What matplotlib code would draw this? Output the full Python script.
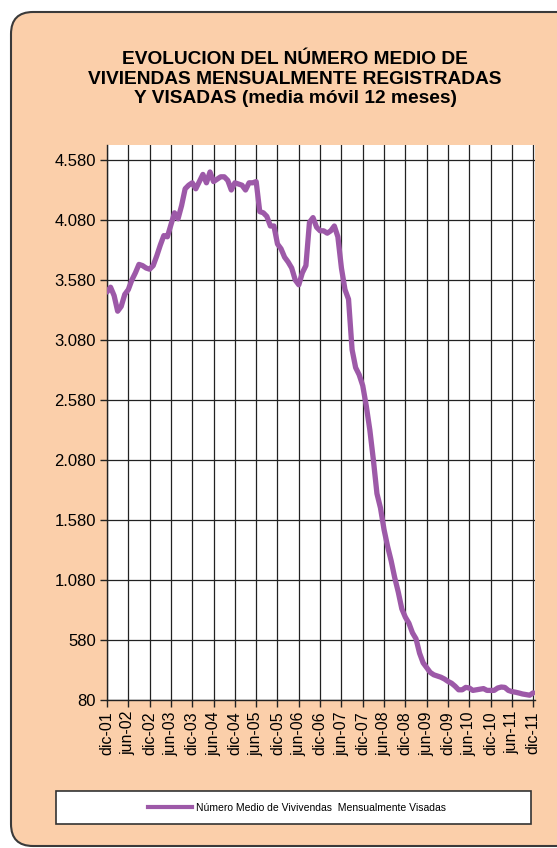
import matplotlib
matplotlib.use("Agg")
import matplotlib.pyplot as plt
from matplotlib.patches import FancyBboxPatch, Rectangle
from matplotlib.lines import Line2D

plt.rcParams['font.family'] = ['Liberation Sans', 'DejaVu Sans']

# Monthly 12-month moving average, dic-01 .. dic-11
values = [3480, 3520, 3450, 3320, 3360, 3460, 3500, 3580, 3640, 3710,
          3700, 3680, 3670, 3700, 3780, 3870, 3950, 3940, 4040, 4140,
          4090, 4200, 4340, 4370, 4390, 4340, 4400, 4460, 4390, 4480,
          4400, 4420, 4440, 4440, 4410, 4330, 4390, 4380, 4370, 4330,
          4390, 4390, 4400, 4150, 4140, 4110, 4030, 4030, 3880, 3840,
          3770, 3730, 3680, 3580, 3540, 3640, 3700, 4060, 4100, 4020,
          3990, 3990, 3970, 3990, 4030, 3940, 3680, 3500, 3420, 3000,
          2850, 2790, 2700, 2530, 2330, 2080, 1800, 1680, 1500, 1360,
          1240, 1100, 980, 840, 770, 720, 640, 590, 470, 390,
          350, 310, 290, 280, 270, 255, 235, 220, 195, 165,
          165, 185, 180, 160, 165, 170, 175, 160, 160, 160,
          180, 188, 185, 160, 150, 145, 138, 130, 125, 120, 140]
months = list(range(len(values)))

xtick_labels = ['dic-01', 'jun-02', 'dic-02', 'jun-03', 'dic-03', 'jun-04', 'dic-04',
                'jun-05', 'dic-05', 'jun-06', 'dic-06', 'jun-07', 'dic-07', 'jun-08',
                'dic-08', 'jun-09', 'dic-09', 'jun-10', 'dic-10', 'jun-11', 'dic-11']
ytick_values = [80, 580, 1080, 1580, 2080, 2580, 3080, 3580, 4080, 4580]
ytick_labels = ['80', '580', '1.080', '1.580', '2.080', '2.580', '3.080', '3.580', '4.080', '4.580']

title = "EVOLUCION DEL NÚMERO MEDIO DE\nVIVIENDAS MENSUALMENTE REGISTRADAS\nY VISADAS (media móvil 12 meses)"
series_name = "Número Medio de Vivivendas  Mensualmente Visadas"

W, H = 557, 848
fig = plt.figure(figsize=(W / 100, H / 100), dpi=100)
fig.patch.set_facecolor('white')

peach = '#FBCFAA'
purple = '#9D59A8'

# background decoration axes in pixel coordinates
bg = fig.add_axes([0, 0, 1, 1], zorder=-10)
bg.set_xlim(0, W)
bg.set_ylim(H, 0)
bg.axis('off')
bg.add_patch(FancyBboxPatch((11, 12), 600, 834, boxstyle="round,pad=0,rounding_size=22",
                            facecolor=peach, edgecolor='#3a3a3a', linewidth=1.5))
# legend box
bg.add_patch(Rectangle((56, 791), 475, 33, facecolor='white', edgecolor='#333333', linewidth=1.2))

ax = fig.add_axes([107 / W, 1 - 700 / H, (535 - 107) / W, (700 - 145) / H])
ax.set_facecolor('white')
ax.plot(months, values, color=purple, linewidth=3.8, solid_capstyle='round',
        solid_joinstyle='round', zorder=3)

ax.set_xlim(0, 120.5)
ax.set_ylim(80, 4705)
ax.set_xticks(list(range(0, 121, 6)))
ax.set_xticklabels(xtick_labels, rotation=90, fontsize=11.5)
ax.set_yticks(ytick_values)
ax.set_yticklabels(ytick_labels, fontsize=12)
ax.tick_params(axis='both', direction='out', length=5, width=1, color='#222222', pad=3)
ax.grid(True, color='#222222', linewidth=0.9, zorder=1)
ax.set_axisbelow(True)
for s in ['top', 'right']:
    ax.spines[s].set_visible(False)
for s in ['left', 'bottom']:
    ax.spines[s].set_color('#222222')
    ax.spines[s].set_linewidth(1.0)

fig.text(295 / W, 1 - 79 / H, title, ha='center', va='center', fontsize=13.8,
         fontweight='bold', linespacing=1.2, multialignment='center')

handle = Line2D([], [], color=purple, linewidth=3)
fig.legend([handle], [series_name], loc='center', bbox_to_anchor=(297 / W, 1 - 808 / H),
           frameon=False, fontsize=7.5, handlelength=4.2, handletextpad=0.4)

fig.savefig('out.png', dpi=100, facecolor=fig.get_facecolor())
